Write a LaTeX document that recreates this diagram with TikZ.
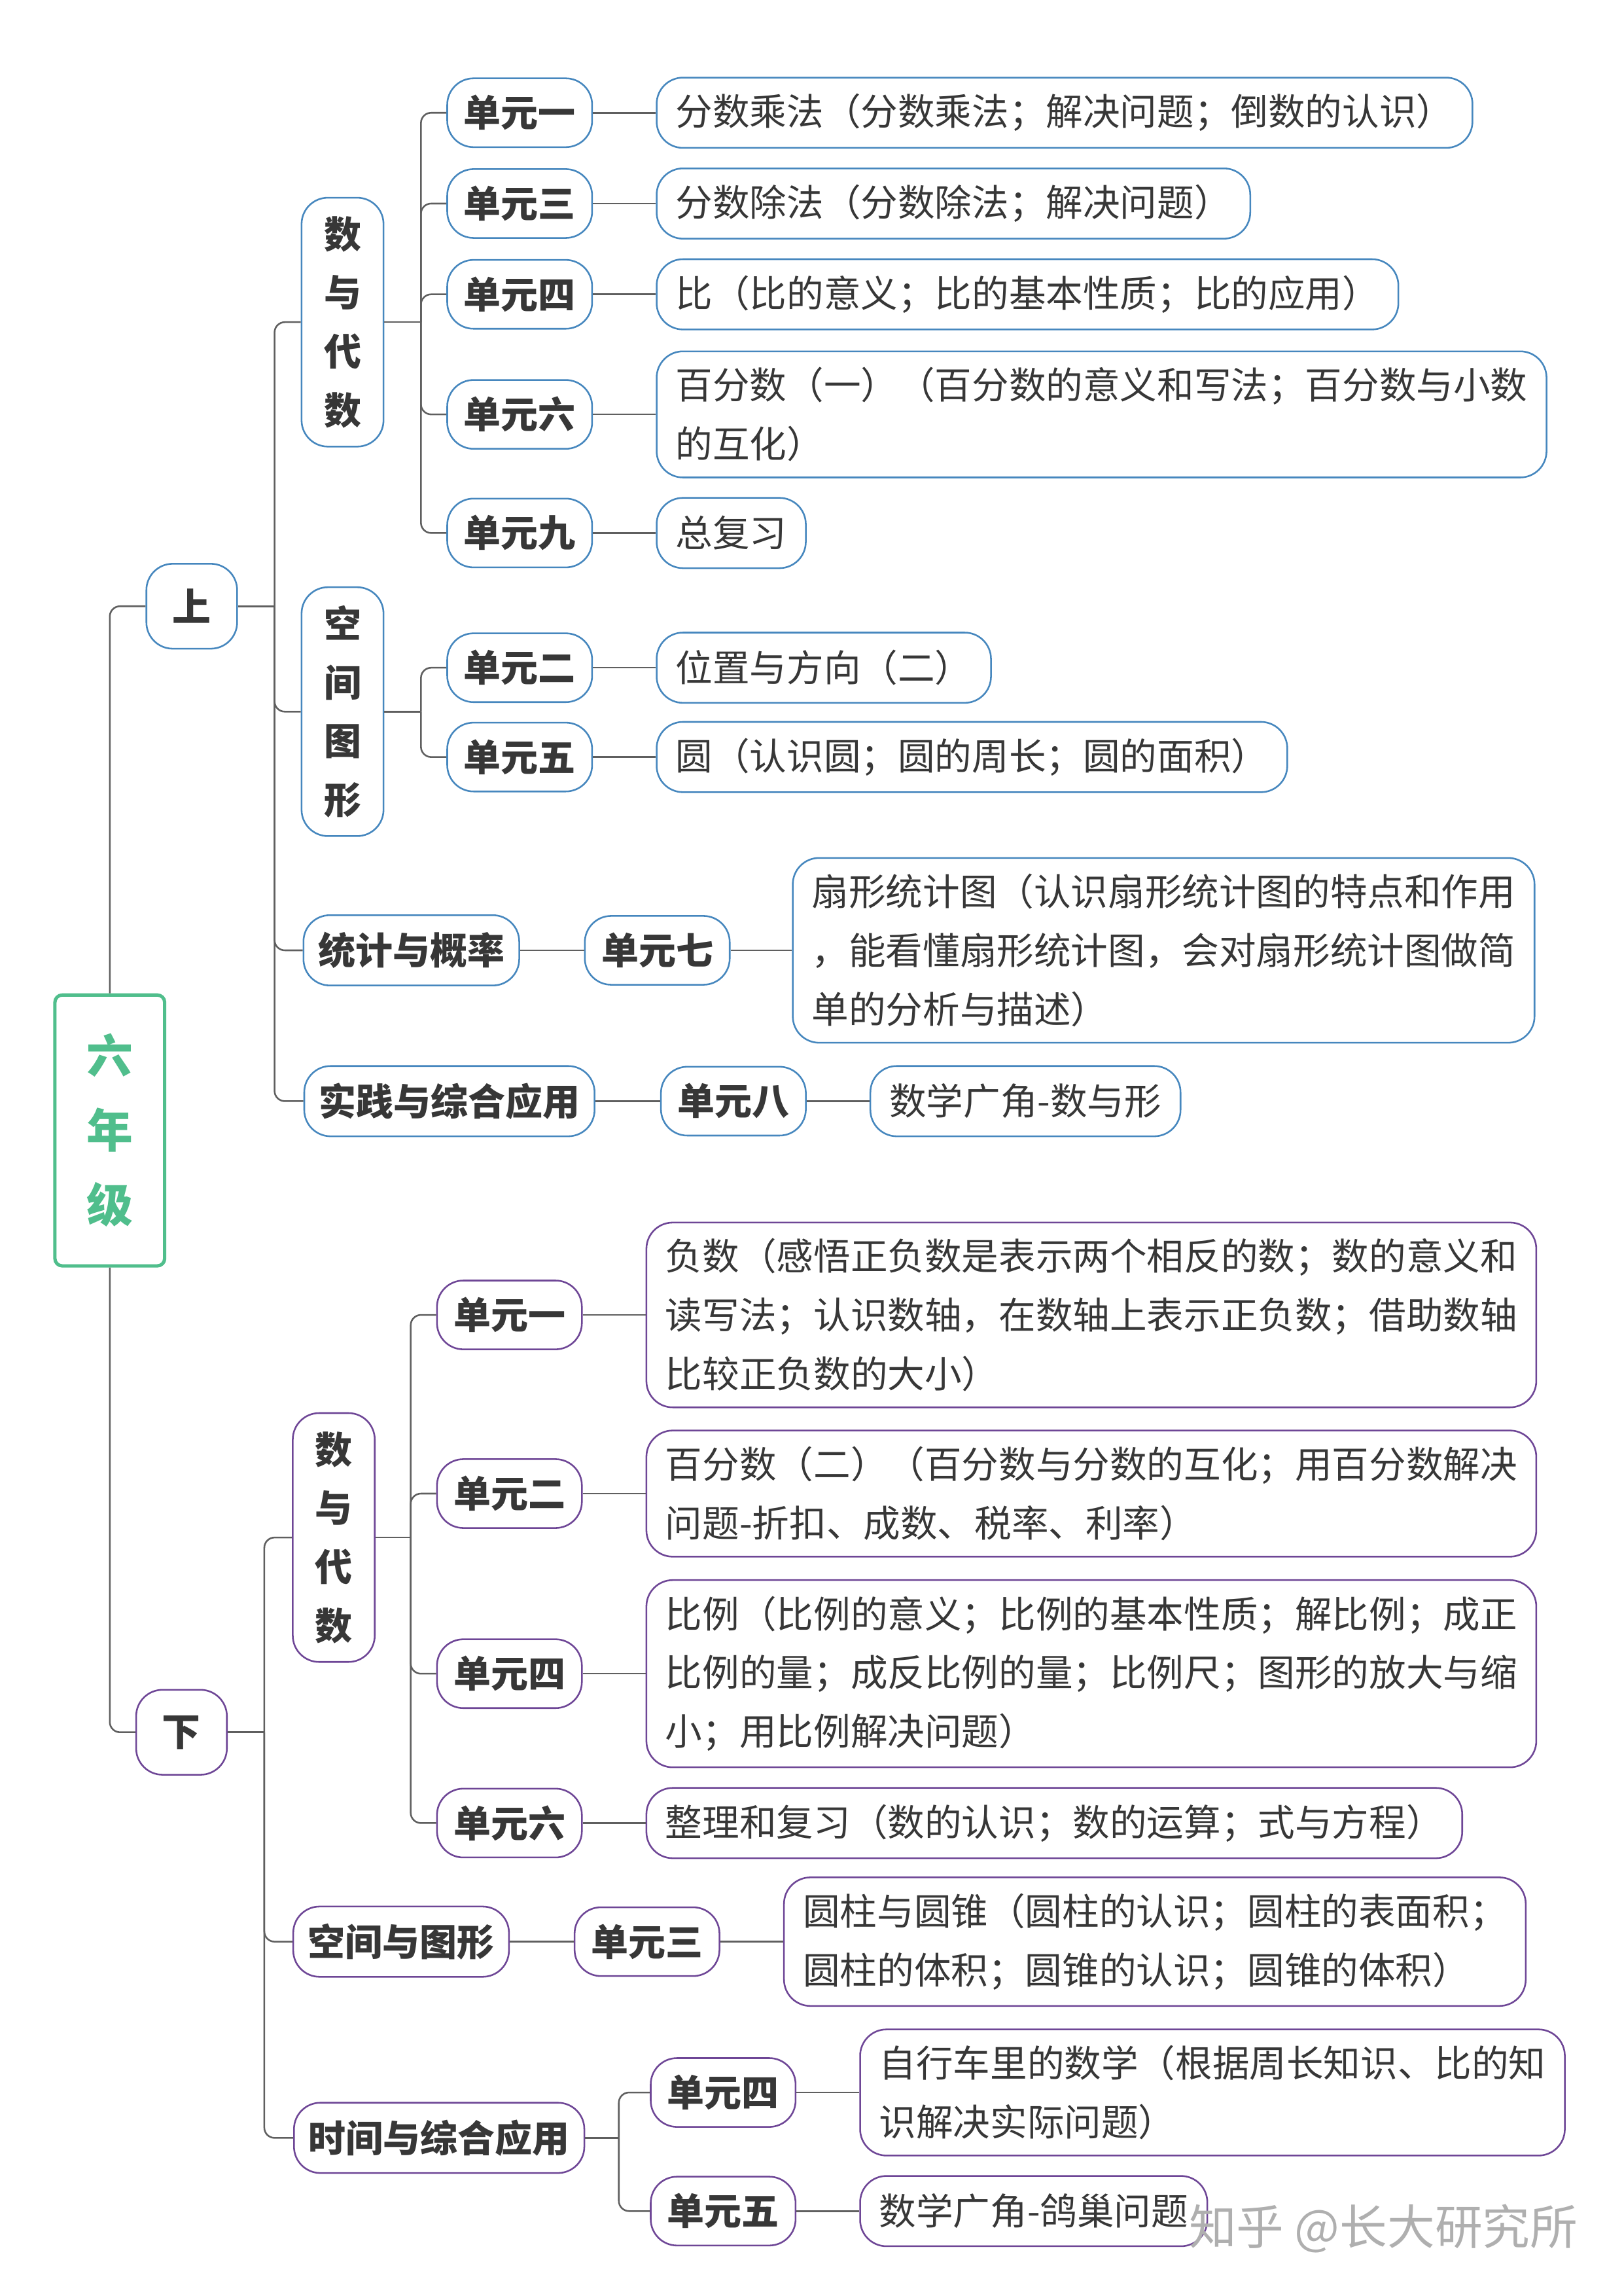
\documentclass[tikz,border=0pt]{standalone}
\usepackage{fontspec}
\setmainfont{Noto Sans CJK SC}
\usetikzlibrary{positioning}
\definecolor{upper}{RGB}{70,135,190}
\definecolor{lower}{RGB}{110,70,150}
\definecolor{rootgreen}{RGB}{80,190,140}
\definecolor{ink}{RGB}{55,55,55}
\definecolor{wire}{RGB}{95,95,95}
\definecolor{mark}{RGB}{175,175,175}

\begin{document}
\begin{tikzpicture}[
    x=0.02cm, y=-0.02cm,
    box/.style={rectangle, rounded corners=0.36cm, draw, line width=0.65pt, fill=white, text=ink, inner xsep=0.2cm, inner ysep=0.22cm},
    unitbox/.style={box, minimum width=1.98cm, minimum height=0.94cm, font=\bfseries\fontsize{14.5}{17}\selectfont},
    topicv/.style={box, minimum width=1.12cm, minimum height=3.4cm, align=center, font=\bfseries\fontsize{14.5}{22.8}\selectfont},
    topich/.style={box, minimum height=0.96cm, font=\bfseries\fontsize{14.5}{17}\selectfont},
    halfbox/.style={box, minimum width=1.24cm, minimum height=1.16cm, font=\bfseries\fontsize{15}{17}\selectfont},
    info/.style={box, anchor=west, minimum height=0.96cm, align=left, inner xsep=0.26cm, font=\fontsize{14.4}{22.8}\selectfont},
    link/.style={draw=wire, line width=0.65pt, rounded corners=0.14cm}
]
    \useasboundingbox (0,0) rectangle (1109,1568);

    % Root
    \node[rectangle, rounded corners=0.1cm, draw=rootgreen, line width=1.3pt, fill=white, text=rootgreen,
          minimum width=1.5cm, minimum height=3.7cm, align=center,
          font=\bfseries\fontsize{18}{29}\selectfont] (root) at (75,772) {六\\年\\级};

    % ===== 上 =====
    \node[halfbox, draw=upper] (shang) at (131,414) {上};

    \node[topicv, draw=upper] (sA) at (234,220) {数\\与\\代\\数};
    \node[topicv, draw=upper] (sB) at (234,486) {空\\间\\图\\形};
    \node[topich, draw=upper] (sC) at (281,649) {统计与概率};
    \node[topich, draw=upper] (sD) at (307,752) {实践与综合应用};

    \node[unitbox, draw=upper] (u1) at (355,77) {单元一};
    \node[unitbox, draw=upper] (u3) at (355,139) {单元三};
    \node[unitbox, draw=upper] (u4) at (355,201) {单元四};
    \node[unitbox, draw=upper] (u6) at (355,283) {单元六};
    \node[unitbox, draw=upper] (u9) at (355,364) {单元九};
    \node[unitbox, draw=upper] (u2) at (355,456) {单元二};
    \node[unitbox, draw=upper] (u5) at (355,517) {单元五};
    \node[unitbox, draw=upper] (u7) at (449,649) {单元七};
    \node[unitbox, draw=upper] (u8) at (501,752) {单元八};

    \node[info, draw=upper] (c1) at (448,77) {分数乘法（分数乘法；解决问题；倒数的认识）};
    \node[info, draw=upper] (c3) at (448,139) {分数除法（分数除法；解决问题）};
    \node[info, draw=upper] (c4) at (448,201) {比（比的意义；比的基本性质；比的应用）};
    \node[info, draw=upper] (c6) at (448,283) {百分数（一）（百分数的意义和写法；百分数与小数\\的互化）};
    \node[info, draw=upper] (c9) at (448,364) {总复习};
    \node[info, draw=upper] (c2) at (448,456) {位置与方向（二）};
    \node[info, draw=upper] (c5) at (448,517) {圆（认识圆；圆的周长；圆的面积）};
    \node[info, draw=upper] (c7) at (541,649) {扇形统计图（认识扇形统计图的特点和作用\\，能看懂扇形统计图，会对扇形统计图做简\\单的分析与描述）};
    \node[info, draw=upper] (c8) at (594,752) {数学广角-数与形};

    % ===== 下 =====
    \node[halfbox, draw=lower] (xia) at (124,1183) {下};

    \node[topicv, draw=lower] (xA) at (228,1050) {数\\与\\代\\数};
    \node[topich, draw=lower] (xB) at (274,1326) {空间与图形};
    \node[topich, draw=lower] (xC) at (300,1460) {时间与综合应用};

    \node[unitbox, draw=lower] (d1) at (348,898) {单元一};
    \node[unitbox, draw=lower] (d2) at (348,1020) {单元二};
    \node[unitbox, draw=lower] (d4) at (348,1143) {单元四};
    \node[unitbox, draw=lower] (d6) at (348,1245) {单元六};
    \node[unitbox, draw=lower] (d3) at (442,1326) {单元三};
    \node[unitbox, draw=lower] (t4) at (494,1429) {单元四};
    \node[unitbox, draw=lower] (t5) at (494,1510) {单元五};

    \node[info, draw=lower] (e1) at (441,898) {负数（感悟正负数是表示两个相反的数；数的意义和\\读写法；认识数轴，在数轴上表示正负数；借助数轴\\比较正负数的大小）};
    \node[info, draw=lower] (e2) at (441,1020) {百分数（二）（百分数与分数的互化；用百分数解决\\问题-折扣、成数、税率、利率）};
    \node[info, draw=lower] (e4) at (441,1143) {比例（比例的意义；比例的基本性质；解比例；成正\\比例的量；成反比例的量；比例尺；图形的放大与缩\\小；用比例解决问题）};
    \node[info, draw=lower] (e6) at (441,1245) {整理和复习（数的认识；数的运算；式与方程）};
    \node[info, draw=lower] (e3) at (535,1326) {圆柱与圆锥（圆柱的认识；圆柱的表面积；\\圆柱的体积；圆锥的认识；圆锥的体积）};
    \node[info, draw=lower] (f4) at (587,1429) {自行车里的数学（根据周长知识、比的知\\识解决实际问题）};
    \node[info, draw=lower] (f5) at (587,1510) {数学广角-鸽巢问题};

    % Connectors
    \draw[link] (root.north) |- (shang.west);
    \draw[link] (root.south) |- (xia.west);

    \coordinate (bShang) at ([xshift=0.5cm]shang.east);
    \draw[link] (shang.east) -- (bShang);
    \foreach \t in {sA,sB,sC,sD}
        \draw[link] (bShang) |- (\t.west);

    \coordinate (bA) at ([xshift=0.5cm]sA.east);
    \draw[link] (sA.east) -- (bA);
    \foreach \u in {u1,u3,u4,u6,u9}
        \draw[link] (bA) |- (\u.west);

    \coordinate (bB) at ([xshift=0.5cm]sB.east);
    \draw[link] (sB.east) -- (bB);
    \foreach \u in {u2,u5}
        \draw[link] (bB) |- (\u.west);

    \draw[link] (sC.east) -- (u7.west);
    \draw[link] (sD.east) -- (u8.west);

    \foreach \u/\c in {u1/c1,u3/c3,u4/c4,u6/c6,u9/c9,u2/c2,u5/c5,u7/c7,u8/c8}
        \draw[link] (\u.east) -- (\c.west);

    \coordinate (bXia) at ([xshift=0.5cm]xia.east);
    \draw[link] (xia.east) -- (bXia);
    \foreach \t in {xA,xB,xC}
        \draw[link] (bXia) |- (\t.west);

    \coordinate (bXA) at ([xshift=0.48cm]xA.east);
    \draw[link] (xA.east) -- (bXA);
    \foreach \u in {d1,d2,d4,d6}
        \draw[link] (bXA) |- (\u.west);

    \draw[link] (xB.east) -- (d3.west);

    \coordinate (bXC) at ([xshift=0.46cm]xC.east);
    \draw[link] (xC.east) -- (bXC);
    \foreach \u in {t4,t5}
        \draw[link] (bXC) |- (\u.west);

    \foreach \u/\c in {d1/e1,d2/e2,d4/e4,d6/e6,d3/e3,t4/f4,t5/f5}
        \draw[link] (\u.east) -- (\c.west);

    % Watermark
    \node[text=mark, font=\fontsize{18.5}{21}\selectfont] (wm) at (945,1522) {知乎 @长大研究所};
\end{tikzpicture}
\end{document}
